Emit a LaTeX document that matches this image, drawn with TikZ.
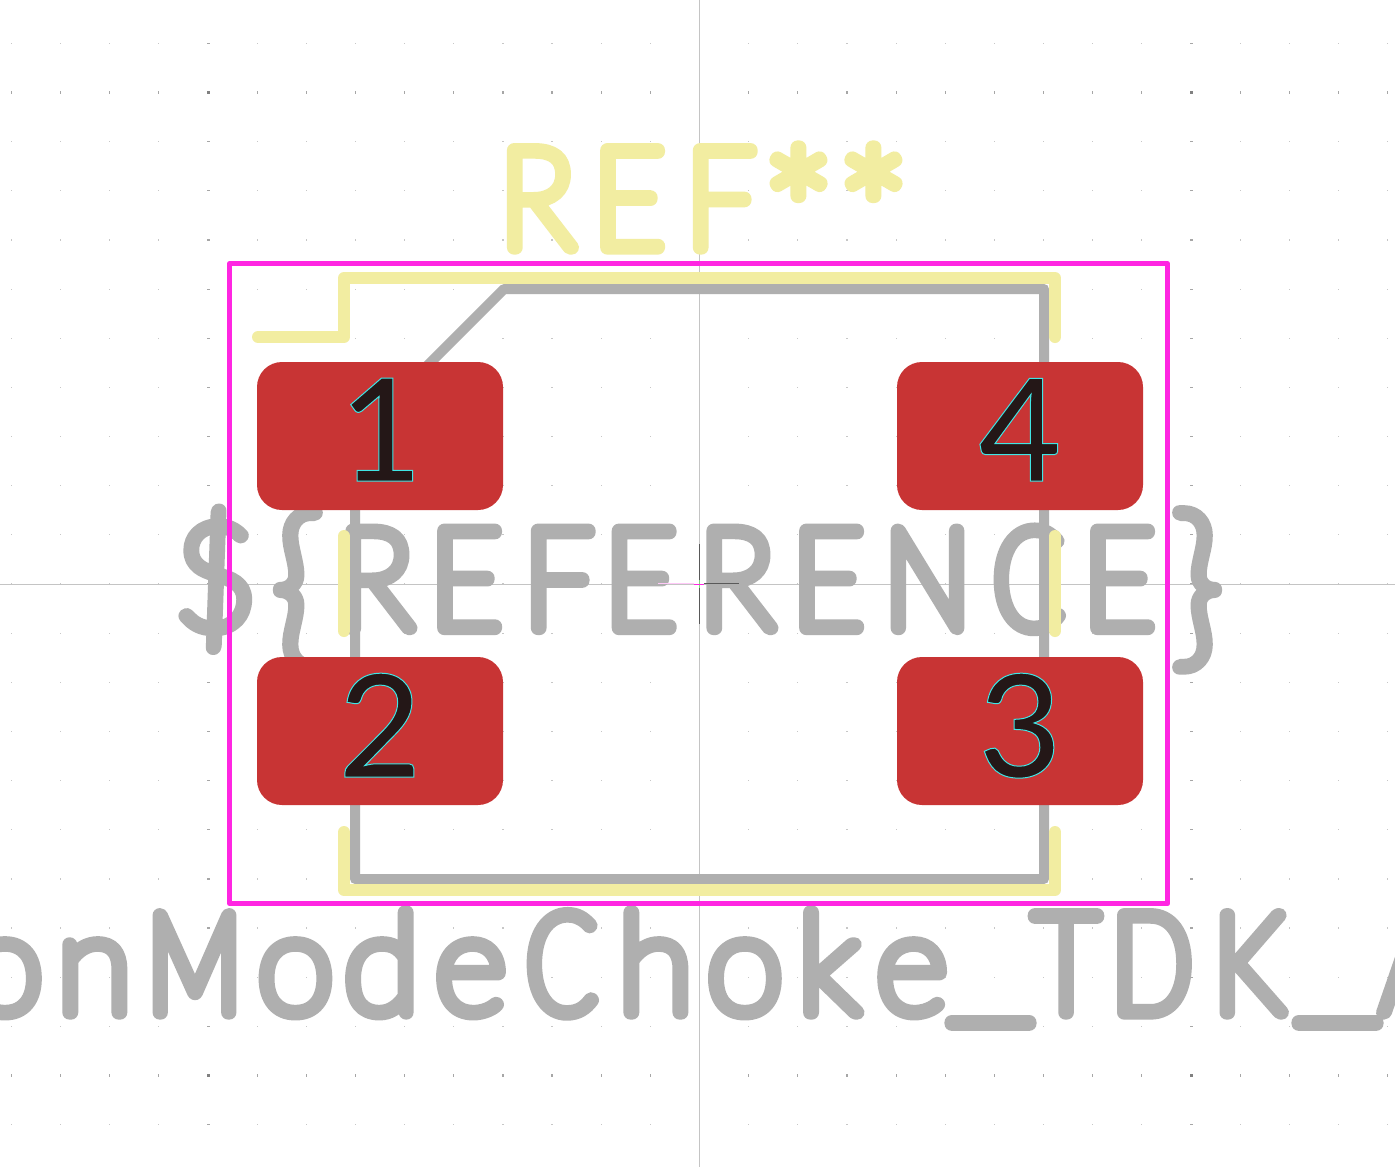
\documentclass[tikz,border=0pt]{standalone}
\usepackage{fontspec}
\newfontfamily\kfont{Lato Hairline}
\newfontfamily\kfa{Lato Hairline}[FakeStretch=0.73]
\newfontfamily\kfb{Lato Hairline}[FakeStretch=0.76]
\newfontfamily\kfc{Lato Hairline}[FakeStretch=0.83]
\newfontfamily\kfr{Lato Hairline}[FakeStretch=0.92]
\newfontfamily\kfe{Lato Hairline}[FakeStretch=0.89]
\newfontfamily\kfu{Lato Hairline}[FakeStretch=1.42]
\newfontfamily\numfont{Lato Medium}
\definecolor{silk}{HTML}{F2EDA1}
\definecolor{fab}{HTML}{AFAFAF}
\definecolor{crt}{HTML}{FF26E2}
\definecolor{padc}{HTML}{C83434}
\definecolor{padt}{HTML}{241717}
\definecolor{axisc}{HTML}{C4C4C4}
\newcommand\strk[1]{\special{pdf:code q 1 j 1 J 2 Tr 14.2 w}#1\special{pdf:code Q}}
\newcommand\numt[1]{\special{pdf:code q 0 j 0 J 2 Tr 1 w 0.25 0.9 0.9 RG}#1\special{pdf:code Q}}
\newcommand\gl[2]{\hbox to 0pt{\kern#1pt\hbox to 0pt{\hss#2\hss}\hss}}
\newcommand\bigfont{\fontsize{139}{139}\selectfont\kfont}
\tikzset{
  stext/.style={inner sep=0pt,outer sep=0pt,anchor=base west,text=#1},
  numtext/.style={inner sep=0pt,outer sep=0pt,anchor=base,text=padt,font=\fontsize{143}{143}\selectfont\numfont},
  padbox/.style={fill=padc,draw=none,rounded corners=25pt,minimum width=246pt,minimum height=148pt,inner sep=0pt},
  silkline/.style={draw=silk,line width=12pt,line cap=round,line join=round},
  fabline/.style={draw=fab,line width=10pt,line cap=round,line join=round},
  crtline/.style={draw=crt,line width=4.6pt,line join=round},
}
\begin{document}
\begin{tikzpicture}[x=1pt,y=-1pt]
\useasboundingbox (0,0) rectangle (1395,1167);
\clip (0,0) rectangle (1395,1167);
\fill[white] (0,0) rectangle (1395,1167);
% grid
\foreach \k in {-14,...,14}{
 \foreach \j in {-11,...,11}{
  \pgfmathsetmacro\gx{699.5+49.15*\k}
  \pgfmathsetmacro\gy{584+49.15*\j}
  \pgfmathtruncatemacro\mx{abs(\k)==10 ? 1 : 0}
  \pgfmathtruncatemacro\my{abs(\j)==10 ? 1 : 0}
  \pgfmathsetmacro\hw{\mx==1 ? 1.5 : 0.6}
  \pgfmathsetmacro\hh{\my==1 ? 1.5 : 0.6}
  \pgfmathtruncatemacro\gs{\mx+\my}
  \ifcase\gs\relax
    \fill[black!22] (\gx-\hw,\gy-\hh) rectangle (\gx+\hw,\gy+\hh);
  \or
    \fill[black!35] (\gx-\hw,\gy-\hh) rectangle (\gx+\hw,\gy+\hh);
  \or
    \fill[black!50] (\gx-\hw,\gy-\hh) rectangle (\gx+\hw,\gy+\hh);
  \fi
 }
}
\draw[axisc,line width=1pt] (699.5,0) -- (699.5,1167);
\draw[axisc,line width=1pt] (0,584) -- (1395,584);
% fab outline
\draw[fabline] (504,289) -- (1044,289) -- (1044,879) -- (355,879) -- (355,438) -- cycle;
% fab texts
\node[stext=fab] (value) at (0,1012.5) {\bigfont\strk{%
 \gl{4.5}{o}\gl{94}{n}\gl{194}{\kfb M}\gl{295}{o}\gl{381}{d}\gl{470}{e}\gl{561}{\kfa C}\gl{655}{h}\gl{744.5}{o}\gl{828}{k}\gl{911}{e}%
 \gl{990}{\kfu\raisebox{7pt}{\_}}\gl{1065.5}{\kfc T}\gl{1151.5}{\kfb D}\gl{1248}{\kfc K}\gl{1337}{\kfu\raisebox{7pt}{\_}}\gl{1417}{\kfc A}}};
\node[stext=fab] (refvar) at (0,628) {\bigfont\strk{%
 \gl{215}{\fontsize{145}{145}\selectfont\kfont\$}\gl{297}{\fontsize{178}{178}\selectfont\kfont\raisebox{-18pt}{\{}}%
 \gl{375}{\kfr R}\gl{465.5}{\kfe E}\gl{558}{\kfe F}\gl{640}{\kfe E}\gl{736}{\kfr R}\gl{827.5}{\kfe E}\gl{927}{\kfc N}\gl{1028}{\kfa C}\gl{1118.5}{\kfe E}%
 \gl{1197}{\fontsize{178}{178}\selectfont\kfont\raisebox{-18pt}{\}}}}};
% silk
\draw[silkline] (258,337) -- (344,337) -- (344,278) -- (1055,278) -- (1055,337);
\draw[silkline] (344,536) -- (344,631);
\draw[silkline] (1055,536) -- (1055,631);
\draw[silkline] (344,832) -- (344,890) -- (1055,890) -- (1055,832);
\node[stext=silk] (refdes) at (0,247.5) {\bigfont\strk{%
 \gl{536.5}{\kfr R}\gl{628.5}{\kfe E}\gl{720}{\kfe F}%
 \gl{798}{\fontsize{174}{174}\selectfont\kfont\raisebox{-29pt}{*}}\gl{873}{\fontsize{174}{174}\selectfont\kfont\raisebox{-29pt}{*}}}};
% courtyard
\draw[crtline] (229.7,263.5) rectangle (1167.7,903.7);
% pads
\node[padbox] (pa) at (380,436) {};
\node[padbox] (pb) at (380,731) {};
\node[padbox] (pc) at (1020,731) {};
\node[padbox] (pd) at (1020,436) {};
\node[numtext] (na) at (381,481) {\numt{1}};
\node[numtext] (nb) at (380,777) {\numt{2}};
\node[numtext] (nc) at (1020,777) {\numt{3}};
\node[numtext] (nd) at (1020,481) {\numt{4}};
% anchor cross
\draw[line width=1pt,draw=crt!25] (658,583.5) -- (694,583.5);
\draw[line width=1pt,draw=black!65] (704,583.3) -- (739,583.3);
\draw[line width=1pt,draw=black!65] (699.3,544) -- (699.3,580);
\draw[line width=1pt,draw=black!65] (699.3,588) -- (699.3,624);
\draw[line width=1pt,draw=green!40!axisc] (699.3,580) -- (699.3,588);
\draw[line width=1.2pt,draw=crt] (694,584.3) -- (704,584.3);
\end{tikzpicture}
\end{document}
